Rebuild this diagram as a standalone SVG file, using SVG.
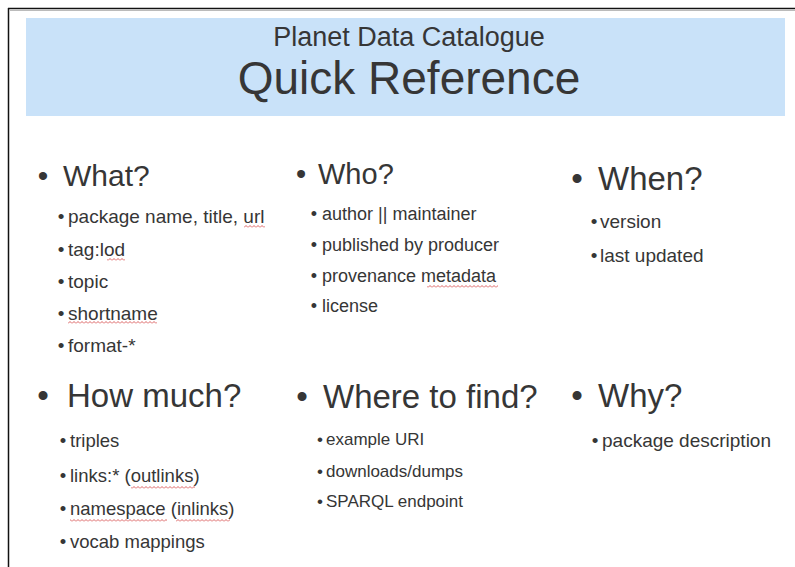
<svg xmlns="http://www.w3.org/2000/svg" width="795" height="567" viewBox="0 0 795 567">
<style>
text{font-family:"Liberation Sans",Arial,sans-serif;fill:#363636}
.t1{font-size:27px}
.t2{font-size:46px}
.h{font-size:33px}
.s{font-size:19px}
</style>
<defs>
<pattern id="wave" patternUnits="userSpaceOnUse" x="0" y="0" width="4" height="3">
<path d="M0,2.5 L2,0.5 L4,2.5" fill="none" stroke="#d23a3a" stroke-width="0.8"/>
</pattern>
</defs>
<rect width="795" height="567" fill="#ffffff"/>
<g id="frame">
<line x1="8" y1="8.5" x2="795" y2="8.5" stroke="#111" stroke-width="1.5"/>
<line x1="8.5" y1="8" x2="8.5" y2="567" stroke="#111" stroke-width="1.5"/>
<line x1="10" y1="10.5" x2="795" y2="10.5" stroke="#bbb" stroke-width="1"/>
</g>
<g id="title">
<rect x="26" y="18" width="759" height="98" fill="#c9e2f9"/>
<text class="t1" x="409" y="46" text-anchor="middle">Planet Data Catalogue</text>
<text class="t2" x="409" y="94" text-anchor="middle">Quick Reference</text>
</g>
<g id="what">
<text x="43" y="186" font-size="30px" text-anchor="middle">•</text>
<text x="63" y="186" font-size="30px">What?</text>
<g class="s">
<text x="61" y="223" text-anchor="middle">•</text><text x="68" y="223">package name, title, url</text>
<text x="61" y="256" text-anchor="middle">•</text><text x="68" y="256">tag:lod</text>
<text x="61" y="288" text-anchor="middle">•</text><text x="68" y="288">topic</text>
<text x="61" y="320" text-anchor="middle">•</text><text x="68" y="320">shortname</text>
<text x="61" y="352" text-anchor="middle">•</text><text x="68" y="352">format-*</text>
</g>
<rect x="244" y="225" width="21" height="3" fill="url(#wave)"/>
<rect x="107" y="258" width="18" height="3" fill="url(#wave)"/>
<rect x="68" y="321" width="89" height="3" fill="url(#wave)"/>
</g>
<g id="who">
<text x="301" y="184" font-size="29px" text-anchor="middle">•</text>
<text x="318" y="184" font-size="29px">Who?</text>
<g style="font-size:18px">
<text x="314" y="220" text-anchor="middle">•</text><text x="322" y="220">author || maintainer</text>
<text x="314" y="251" text-anchor="middle">•</text><text x="322" y="251">published by producer</text>
<text x="314" y="282" text-anchor="middle">•</text><text x="322" y="282">provenance metadata</text>
<text x="314" y="312" text-anchor="middle">•</text><text x="322" y="312">license</text>
</g>
<rect x="427" y="285" width="71" height="3" fill="url(#wave)"/>
</g>
<g id="when">
<text x="577" y="190" class="h" text-anchor="middle">•</text>
<text x="598" y="190" class="h">When?</text>
<g class="s">
<text x="594" y="228" text-anchor="middle">•</text><text x="600" y="228">version</text>
<text x="594" y="262" text-anchor="middle">•</text><text x="600" y="262">last updated</text>
</g>
</g>
<g id="howmuch">
<text x="43" y="407" class="h" text-anchor="middle">•</text>
<text x="67" y="407" class="h">How much?</text>
<g style="font-size:18.5px">
<text x="63" y="447" text-anchor="middle">•</text><text x="70" y="447">triples</text>
<text x="63" y="482" text-anchor="middle">•</text><text x="70" y="482">links:* (outlinks)</text>
<text x="63" y="515" text-anchor="middle">•</text><text x="70" y="515">namespace (inlinks)</text>
<text x="63" y="548" text-anchor="middle">•</text><text x="70" y="548">vocab mappings</text>
</g>
<rect x="131" y="486" width="64" height="3" fill="url(#wave)"/>
<rect x="70" y="519" width="97" height="3" fill="url(#wave)"/>
<rect x="176" y="519" width="54" height="3" fill="url(#wave)"/>
</g>
<g id="where">
<text x="302" y="408" class="h" text-anchor="middle">•</text>
<text x="323" y="408" class="h">Where to find?</text>
<g style="font-size:17px">
<text x="320" y="445" text-anchor="middle">•</text><text x="326" y="445">example URI</text>
<text x="320" y="477" text-anchor="middle">•</text><text x="326" y="477">downloads/dumps</text>
<text x="320" y="507" text-anchor="middle">•</text><text x="326" y="507">SPARQL endpoint</text>
</g>
</g>
<g id="why">
<text x="577" y="407" class="h" text-anchor="middle">•</text>
<text x="598" y="407" class="h">Why?</text>
<g class="s">
<text x="595" y="447" text-anchor="middle">•</text><text x="602" y="447">package description</text>
</g>
</g>
<g id="connectors"></g>
</svg>
